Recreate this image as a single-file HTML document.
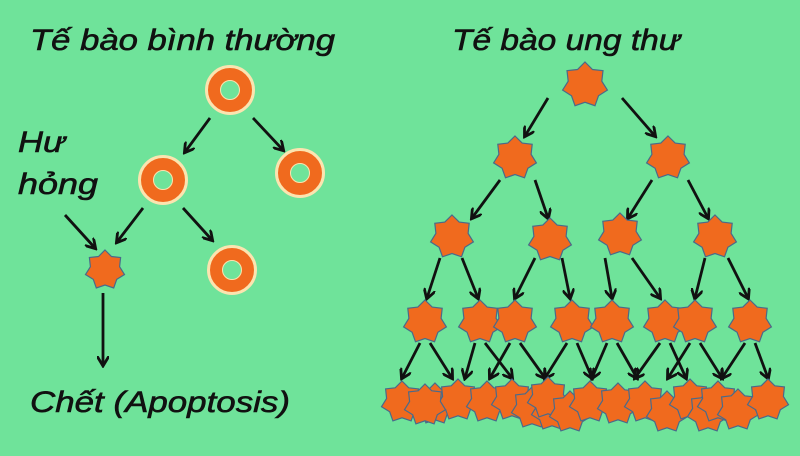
<!DOCTYPE html><html><head><meta charset="utf-8"><style>
body{margin:0;background:#6fe39a;}
svg{display:block}
text{font-family:"Liberation Sans",sans-serif;font-style:italic;fill:#111;stroke:#111;stroke-width:0.6;}
</style></head><body>
<svg id="s" width="800" height="456" viewBox="0 0 800 456">
<defs><marker id="a" markerWidth="12" markerHeight="12" refX="9" refY="6" orient="auto" markerUnits="userSpaceOnUse" viewBox="0 0 12 12"><path d="M0,0 L10,6 L0,12" fill="none" stroke="#111" stroke-width="2.8"/></marker></defs>
<rect width="800" height="456" fill="#6fe39a"/>
<text x="30" y="50" font-size="30" textLength="305" lengthAdjust="spacingAndGlyphs">Tế bào bình thường</text>
<text x="452" y="50" font-size="30" textLength="228" lengthAdjust="spacingAndGlyphs">Tế bào ung thư</text>
<text x="18" y="152" font-size="30" textLength="47" lengthAdjust="spacingAndGlyphs">Hư</text>
<text x="18" y="194" font-size="30" textLength="80" lengthAdjust="spacingAndGlyphs">hỏng</text>
<text x="30" y="412" font-size="30" textLength="260" lengthAdjust="spacingAndGlyphs">Chết (Apoptosis)</text>
<g id="g"></g>
</svg>
<script>
var g=document.getElementById('g'),h='';
function ar(x1,y1,x2,y2){h+='<line x1="'+x1+'" y1="'+y1+'" x2="'+x2+'" y2="'+y2+'" stroke="#111" stroke-width="2.8" marker-end="url(#a)"/>';}
function ring(x,y){h+='<circle cx="'+x+'" cy="'+y+'" r="17" fill="none" stroke="#fbe4b0" stroke-width="16"/><circle cx="'+x+'" cy="'+y+'" r="16" fill="none" stroke="#f06a1e" stroke-width="12"/>';}
function star(x,y,r){var p=[],n=7;for(var i=0;i<2*n;i++){var rr=i%2?r*0.75:r,a=Math.PI*i/n-Math.PI/2;p.push((x+rr*Math.cos(a)).toFixed(1)+','+(y+rr*Math.sin(a)).toFixed(1));}
h+='<polygon points="'+p.join(' ')+'" fill="#f06a1e" stroke="#4a6a8a" stroke-width="1.2"/>';}
ring(230,90);ring(163,180);ring(300,173);ring(232,270);
ar(210,118,185,152);ar(253,118,283,150);ar(143,208,117,242);ar(183,208,212,240);ar(65,215,95,248);ar(103,293,103,365);
star(105,270,20);
ar(548,98,525,136);ar(622,98,655,136);
ar(500,180,472,218);ar(535,180,548,218);ar(652,180,628,218);ar(688,180,708,218);
var l2=[[452,237],[550,240],[620,235],[715,237]];
var l3=[425,480,515,572,612,665,695,750];
ar(440,258,427,298);ar(462,258,478,298);ar(535,258,515,298);ar(562,258,570,298);ar(605,258,612,298);ar(632,258,660,298);ar(705,258,695,298);ar(728,258,748,298);
var l4t=[[425,[402,452]],[480,[465,512]],[515,[490,545]],[572,[545,592]],[612,[592,637]],[665,[635,686]],[695,[668,722]],[750,[722,768]]];
l4t.forEach(function(t){t[1].forEach(function(x){ar(t[0]+(x<t[0]?-5:5),343,x,378);});});
star(585,85,23);star(515,158,22);star(668,158,22);
l2.forEach(function(p){star(p[0],p[1],22)});
l3.forEach(function(x){star(x,322,22)});
[[402,402],[435,404],[458,400],[487,402],[512,400],[532,408],[552,410],[548,398],[570,412],[590,402],[618,404],[645,402],[667,412],[690,400],[708,412],[718,402],[738,410],[768,400],[425,405]].forEach(function(p){star(p[0],p[1],21)});
g.innerHTML=h;
</script>
</body></html>
